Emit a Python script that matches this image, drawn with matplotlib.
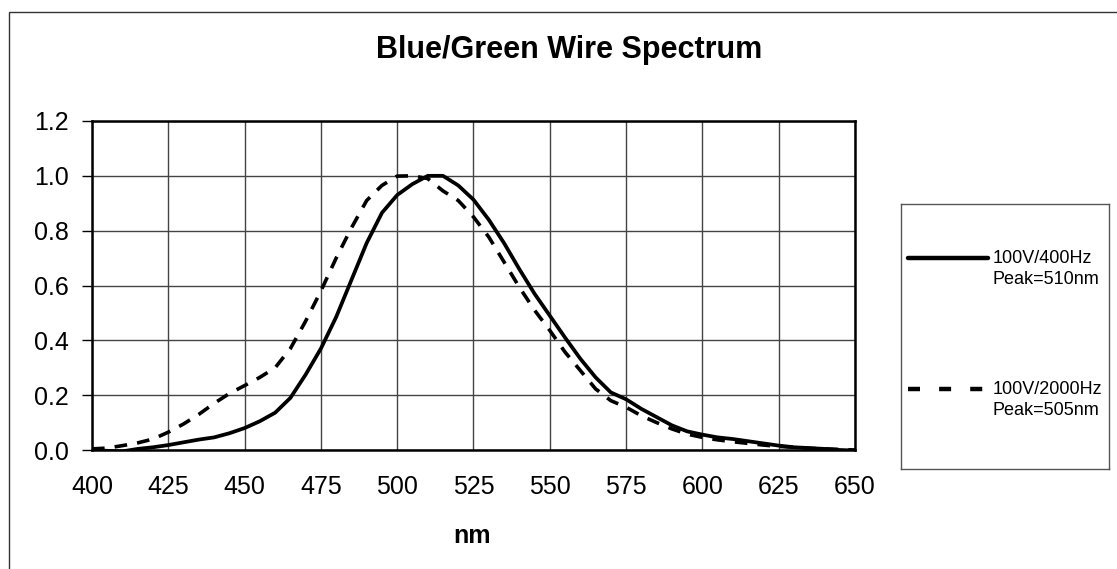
import numpy as np
import matplotlib.pyplot as plt
from matplotlib.lines import Line2D
from matplotlib.patches import Rectangle

plt.rcParams['font.family'] = ['Liberation Sans', 'DejaVu Sans']

# wavelength grid (nm) and normalised intensities
wl = list(range(400, 655, 5))

v400 = [0.0, -0.003, -0.005, 0.004, 0.01, 0.018, 0.028, 0.038, 0.046, 0.061,
        0.08, 0.105, 0.136, 0.19, 0.275, 0.37, 0.485, 0.62, 0.755, 0.865,
        0.93, 0.97, 1.0, 1.0, 0.965, 0.913, 0.84, 0.755, 0.66, 0.57,
        0.49, 0.41, 0.333, 0.265, 0.21, 0.185, 0.15, 0.12, 0.09, 0.068,
        0.056, 0.046, 0.04, 0.032, 0.024, 0.016, 0.01, 0.007, 0.004, 0.0,
        -0.002]

v2000 = [0.004, 0.007, 0.016, 0.026, 0.04, 0.065, 0.095, 0.13, 0.17, 0.206,
         0.235, 0.265, 0.30, 0.37, 0.47, 0.58, 0.70, 0.81, 0.91, 0.965,
         0.999, 1.0, 0.99, 0.945, 0.91, 0.85, 0.777, 0.686, 0.594, 0.51,
         0.436, 0.357, 0.29, 0.223, 0.18, 0.156, 0.125, 0.10, 0.077, 0.058,
         0.046, 0.037, 0.03, 0.024, 0.018, 0.013, 0.01, 0.006, 0.004, 0.002,
         0.0]

labels = ['100V/400Hz\nPeak=510nm', '100V/2000Hz\nPeak=505nm']
xticks = list(range(400, 675, 25))
yticks = [0.0, 0.2, 0.4, 0.6, 0.8, 1.0, 1.2]

W, H = 1117, 569
fig = plt.figure(figsize=(W / 100, H / 100), dpi=100)

# outer chart border
fig.patches.append(Rectangle((9 / W, -0.1), 1.2, 1 - 12 / H + 0.1,
                             transform=fig.transFigure, fill=False,
                             edgecolor='#333333', linewidth=1.0))

ax = fig.add_axes([92 / W, 1 - 450 / H, (855 - 92) / W, (450 - 121) / H])
ax.plot(wl, v400, color='black', linewidth=2.7, solid_joinstyle='round')
ax.plot(wl, v2000, color='black', linewidth=2.6, linestyle=(0, (3.5, 2.8)))

ax.set_xlim(400, 650)
ax.set_ylim(0, 1.2)
ax.set_xticks(xticks)
ax.set_yticks(yticks)
ax.set_yticklabels([f'{v:.1f}' for v in yticks])
ax.tick_params(axis='x', length=0, pad=18, labelsize=18)
ax.tick_params(axis='y', length=7, width=1, direction='out', pad=10, labelsize=18)
ax.grid(True, color='#444444', linewidth=1.0)
ax.set_axisbelow(True)
for s in ax.spines.values():
    s.set_linewidth(1.8)
    s.set_color('black')

fig.text(569 / W, 1 - 50 / H, 'Blue/Green Wire Spectrum', ha='center', va='center',
         fontsize=22, fontweight='bold')
fig.text(472 / W, 1 - 536 / H, 'nm', ha='center', va='center',
         fontsize=18, fontweight='bold')

# legend box
lg = fig.add_axes([901 / W, 1 - 469 / H, 208 / W, 265 / H])
lg.set_xlim(0, 208)
lg.set_ylim(265, 0)
lg.set_xticks([])
lg.set_yticks([])
for s in lg.spines.values():
    s.set_color('#555555')
    s.set_linewidth(1.0)
lg.add_line(Line2D([7, 87], [54, 54], color='black', linewidth=3.2,
                   solid_capstyle='round'))
lg.add_line(Line2D([7, 87], [185, 185], color='black', linewidth=3.2,
                   linestyle=(0, (2.7, 4.3))))
lg.text(92, 65, labels[0], ha='left', va='center', fontsize=13, linespacing=1.25)
lg.text(92, 196, labels[1], ha='left', va='center', fontsize=13, linespacing=1.25)

fig.savefig('out.png', dpi=100)
